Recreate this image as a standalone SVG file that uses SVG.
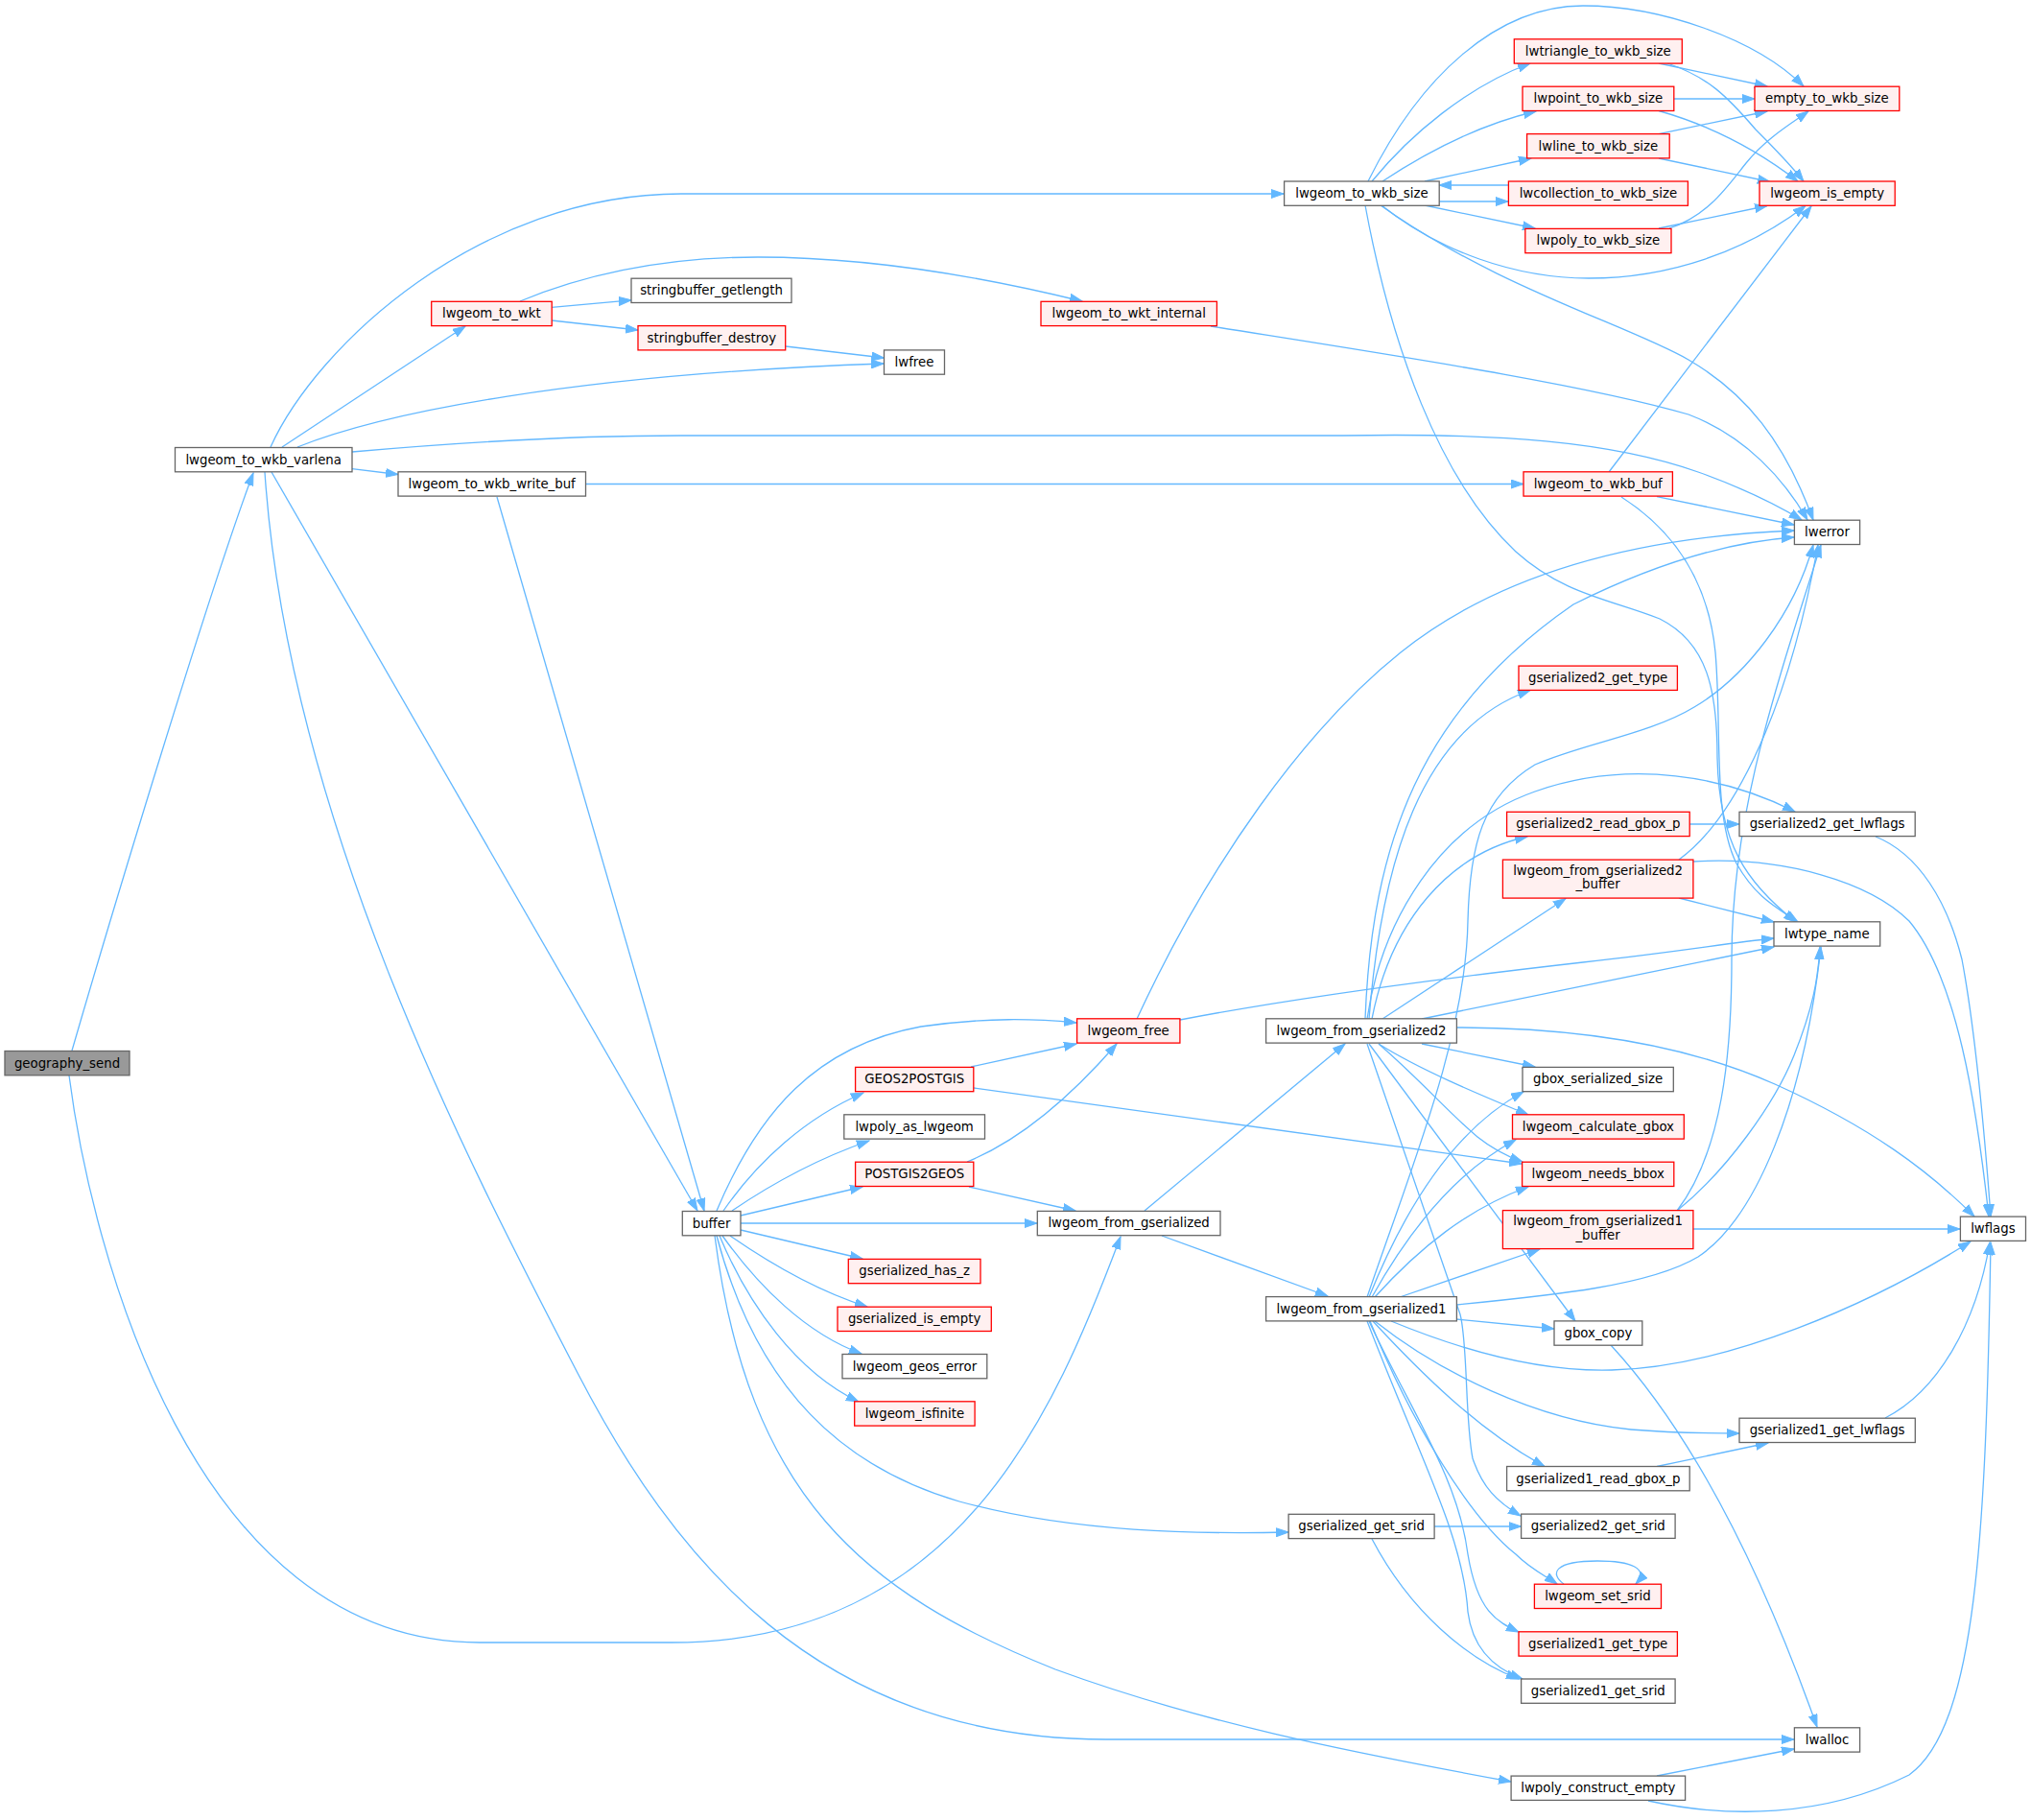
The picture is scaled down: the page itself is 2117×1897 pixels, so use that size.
<svg xmlns="http://www.w3.org/2000/svg" width="2117" height="1897" viewBox="0 0 2117 1897">
<style>
.e{fill:none;stroke:#63b8ff;stroke-width:1.3;marker-end:url(#arr)}
.n rect{fill:#ffffff;stroke:#666666;stroke-width:1.3}
.r rect{fill:#fff0f0;stroke:#ff0000;stroke-width:1.3}
.root rect{fill:#999999;stroke:#666666;stroke-width:1.3}
text{font-family:"DejaVu Sans","Liberation Sans",sans-serif;font-size:13.3px;fill:#000000;text-anchor:middle}
</style>
<defs>
<marker id="arr" markerUnits="userSpaceOnUse" markerWidth="14" markerHeight="10" refX="13" refY="5" orient="auto">
<path d="M0,0.5 L13,5 L0,9.5 z" fill="#63b8ff" stroke="#63b8ff" stroke-width="1"/>
</marker>
</defs>
<rect x="0" y="0" width="2117" height="1897" fill="#ffffff"/>
<g id="edges">
<path class="e" d="M75,1095 C120,940 220,610 264,493"/>
<path class="e" d="M72,1121 C95,1300 200,1712 500,1712 L700,1712 C1000,1712 1100,1470 1168,1289"/>
<path class="e" d="M282,466 C330,360 500,202 710,202 L1338,202"/>
<path class="e" d="M294,466 L485,340"/>
<path class="e" d="M310,466 C400,430 600,390 921,379"/>
<path class="e" d="M367,471 C480,461 600,454 710,454 L1400,454 C1560,451 1680,460 1770,492 C1820,510 1855,528 1878,542"/>
<path class="e" d="M367,488.6 L415,494.5"/>
<path class="e" d="M283,492 L727,1262"/>
<path class="e" d="M276,492 C300,850 484,1204 602,1431 C700,1620 850,1813 1153,1813 L1870,1813"/>
<path class="e" d="M610,504.5 L1588,504.5"/>
<path class="e" d="M518,518 L734,1262"/>
<path class="e" d="M575,320.4 L658,312.8"/>
<path class="e" d="M575,334 L665,344"/>
<path class="e" d="M542,314 C600,290 680,268 790,268 C900,268 1010,285 1128,314"/>
<path class="e" d="M819,361 L921.5,373"/>
<path class="e" d="M1262,340 C1450,370 1650,400 1760,432 C1820,455 1860,500 1884,542"/>
<path class="e" d="M1430,189 C1470,140 1530,90 1595,66"/>
<path class="e" d="M1426,189 C1480,80 1560,6 1650,6 C1730,6 1830,40 1880,90"/>
<path class="e" d="M1441,189 C1500,150 1550,128 1601,116"/>
<path class="e" d="M1485,189 L1596,165"/>
<path class="e" d="M1500,210 L1572,210"/>
<path class="e" d="M1572,193 L1500,193"/>
<path class="e" d="M1485,214 L1600,238"/>
<path class="e" d="M1440,214 C1500,262 1580,290 1656,290 C1740,290 1820,262 1882,214.5"/>
<path class="e" d="M1439,214 C1560,300 1700,340 1760,375 C1820,410 1860,460 1890,542"/>
<path class="e" d="M1423,214 C1450,360 1500,500 1580,575 C1630,620 1680,625 1730,645 C1780,670 1790,720 1790,790 C1792,880 1820,920 1872,961"/>
<path class="e" d="M1729,66 L1842,90"/>
<path class="e" d="M1738,66 C1780,80 1800,100 1830,135 C1850,155 1865,170 1880,189"/>
<path class="e" d="M1745,103 L1829,103"/>
<path class="e" d="M1729,115.5 C1780,130 1830,155 1874,189"/>
<path class="e" d="M1729,139.6 L1842,116"/>
<path class="e" d="M1729,165 L1845,189.5"/>
<path class="e" d="M1740,238 C1780,225 1800,195 1820,170 C1840,145 1865,130 1885,116"/>
<path class="e" d="M1729,238 L1842,214.5"/>
<path class="e" d="M1677,492 L1888,215"/>
<path class="e" d="M1727,517.6 L1870,547"/>
<path class="e" d="M1690,518 C1740,550 1780,600 1788,680 C1795,760 1785,850 1810,900 C1830,935 1850,945 1874,961"/>
<path class="e" d="M1185,1062 C1260,900 1360,760 1460,680 C1560,600 1700,560 1870,553"/>
<path class="e" d="M1230,1063 C1350,1040 1500,1020 1650,1003 C1750,992 1800,983 1849,978"/>
<path class="e" d="M1012,1112 L1122,1088"/>
<path class="e" d="M1015,1134 L1586,1213"/>
<path class="e" d="M1008,1211 C1060,1190 1110,1150 1164,1088"/>
<path class="e" d="M1010,1237 L1121,1262"/>
<path class="e" d="M747,1262 C790,1160 850,1090 960,1070 C1030,1060 1080,1062 1122,1066"/>
<path class="e" d="M754,1262 C790,1210 840,1165 900,1139"/>
<path class="e" d="M763,1262 C810,1230 860,1205 906,1189"/>
<path class="e" d="M772,1267 L899,1237"/>
<path class="e" d="M772,1275 L1081,1275"/>
<path class="e" d="M772,1282 L899,1312"/>
<path class="e" d="M761,1288 C800,1315 850,1345 904,1362"/>
<path class="e" d="M753,1288 C790,1340 840,1390 898,1411"/>
<path class="e" d="M750,1288 C780,1360 830,1430 895,1461"/>
<path class="e" d="M747,1288 C790,1450 880,1530 1000,1565 C1120,1598 1250,1599 1343,1597"/>
<path class="e" d="M745,1288 C780,1560 900,1660 1100,1740 C1250,1795 1400,1825 1575,1857"/>
<path class="e" d="M1193,1262 L1402,1088"/>
<path class="e" d="M1211,1288 L1384,1351"/>
<path class="e" d="M1423,1062 C1430,880 1480,740 1640,630 C1720,590 1800,565 1870,560"/>
<path class="e" d="M1427,1062 C1440,900 1480,760 1595,719.5"/>
<path class="e" d="M1425,1062 C1440,960 1500,860 1600,825 C1700,790 1800,810 1871,846"/>
<path class="e" d="M1430,1062 C1450,960 1510,890 1592,872"/>
<path class="e" d="M1441,1062 L1632,936.5"/>
<path class="e" d="M1482,1062 L1849,987"/>
<path class="e" d="M1482,1088 L1600,1112"/>
<path class="e" d="M1437,1088 C1480,1115 1540,1140 1593,1162"/>
<path class="e" d="M1437,1088 C1480,1125 1510,1160 1540,1185 C1555,1197 1570,1205 1587,1211"/>
<path class="e" d="M1518,1071 C1650,1071 1760,1090 1850,1130 C1950,1175 2010,1220 2058,1268"/>
<path class="e" d="M1427,1088 L1642,1377"/>
<path class="e" d="M1425,1088 L1522,1370 C1530,1400 1527,1480 1535,1520 C1545,1550 1560,1565 1585,1580"/>
<path class="e" d="M1425,1352 C1470,1220 1528,1080 1530,960 C1532,880 1545,830 1600,797 C1650,775 1720,765 1766,737 C1820,705 1870,640 1890,568"/>
<path class="e" d="M1518,1360 C1620,1350 1720,1340 1770,1310 C1830,1270 1880,1150 1898,987"/>
<path class="e" d="M1518,1375 L1620,1385"/>
<path class="e" d="M1459,1352 L1605,1302"/>
<path class="e" d="M1427,1352 C1460,1270 1510,1180 1588,1138"/>
<path class="e" d="M1430,1352 C1470,1280 1520,1220 1580,1188"/>
<path class="e" d="M1433,1352 C1480,1300 1530,1260 1593,1237"/>
<path class="e" d="M1450,1377 C1530,1410 1610,1430 1680,1428 C1800,1425 1950,1360 2054,1294"/>
<path class="e" d="M1433,1377 C1500,1430 1600,1480 1700,1490 C1750,1494 1780,1494 1813,1494"/>
<path class="e" d="M1431,1377 C1480,1430 1540,1490 1610,1528.5"/>
<path class="e" d="M1428,1377 C1470,1480 1530,1580 1580,1620 C1595,1635 1610,1642 1623,1651"/>
<path class="e" d="M1427,1377 C1470,1470 1520,1540 1530,1620 C1540,1680 1560,1690 1583,1701"/>
<path class="e" d="M1425,1377 C1480,1520 1525,1600 1530,1680 C1535,1720 1560,1740 1587,1750"/>
<path class="e" d="M1495,1591 L1585.6,1591"/>
<path class="e" d="M1430,1604 C1470,1680 1530,1730 1583,1750"/>
<path class="e" d="M1750,896 C1800,860 1860,760 1895,568"/>
<path class="e" d="M1750,936 L1849,961"/>
<path class="e" d="M1765,898 C1860,892 1950,920 1990,960 C2040,1020 2060,1150 2073,1268"/>
<path class="e" d="M1761,859 L1813,859"/>
<path class="e" d="M1955,872 C2000,890 2030,940 2045,1000 C2060,1080 2070,1200 2075,1268"/>
<path class="e" d="M1748,1262 C1795,1200 1805,1100 1805,1000 C1805,850 1850,720 1898,568"/>
<path class="e" d="M1748,1262 C1800,1220 1850,1150 1870,1100 C1890,1050 1895,1020 1897,987"/>
<path class="e" d="M1765,1281 L2043,1281"/>
<path class="e" d="M1965,1478 C2020,1450 2060,1380 2074,1295"/>
<path class="e" d="M1727,1528.5 L1843,1504"/>
<path class="e" d="M1679,1402 C1760,1490 1830,1620 1894,1800"/>
<path class="e" d="M1727,1851 L1870,1823"/>
<path class="e" d="M1718,1877 C1800,1895 1900,1895 1990,1850 C2060,1800 2070,1600 2075,1295"/>
<path class="e" d="M1630,1651 C1615,1640 1620,1627 1665,1627 C1700,1627 1720,1635 1705,1651"/>
</g>
<g id="n_geography_send" class="root"><rect x="5" y="1095.5" width="130" height="25.3"/><text x="70" y="1112.5">geography_send</text></g>
<g id="n_varlena" class="n"><rect x="182.5" y="466.5" width="184.5" height="25.3"/><text x="274.7" y="483.5">lwgeom_to_wkb_varlena</text></g>
<g id="n_wkb_size" class="n"><rect x="1338.6" y="189" width="161.6" height="25.3"/><text x="1419.4" y="206">lwgeom_to_wkb_size</text></g>
<g id="n_to_wkt" class="r"><rect x="449.7" y="314.3" width="125.5" height="25.3"/><text x="512.4" y="331.3">lwgeom_to_wkt</text></g>
<g id="n_getlength" class="n"><rect x="658" y="290.2" width="167" height="25.3"/><text x="741.5" y="307.2">stringbuffer_getlength</text></g>
<g id="n_destroy" class="r"><rect x="665" y="339.6" width="153.7" height="25.3"/><text x="741.8" y="356.6">stringbuffer_destroy</text></g>
<g id="n_wkt_internal" class="r"><rect x="1085" y="314.3" width="183.4" height="25.3"/><text x="1176.7" y="331.3">lwgeom_to_wkt_internal</text></g>
<g id="n_lwfree" class="n"><rect x="921.5" y="364.9" width="63" height="25.3"/><text x="953" y="381.9">lwfree</text></g>
<g id="n_lwerror" class="n"><rect x="1870.4" y="542.2" width="68.2" height="25.3"/><text x="1904.5" y="559.2">lwerror</text></g>
<g id="n_write_buf" class="n"><rect x="415" y="491.8" width="195.5" height="25.3"/><text x="512.7" y="508.8">lwgeom_to_wkb_write_buf</text></g>
<g id="n_buffer" class="n"><rect x="711.3" y="1262.5" width="60.7" height="25.3"/><text x="741.6" y="1279.5">buffer</text></g>
<g id="n_lwalloc" class="n"><rect x="1870.4" y="1800.8" width="68.2" height="25.3"/><text x="1904.5" y="1817.8">lwalloc</text></g>
<g id="n_wkb_buf" class="r"><rect x="1588" y="491.8" width="155.4" height="25.3"/><text x="1665.7" y="508.8">lwgeom_to_wkb_buf</text></g>
<g id="n_lwtriangle" class="r"><rect x="1578.3" y="40.8" width="175" height="25.3"/><text x="1665.8" y="57.8">lwtriangle_to_wkb_size</text></g>
<g id="n_lwpoint" class="r"><rect x="1587" y="90.2" width="157.8" height="25.3"/><text x="1665.9" y="107.2">lwpoint_to_wkb_size</text></g>
<g id="n_lwline" class="r"><rect x="1591.6" y="139.6" width="148.6" height="25.3"/><text x="1665.9" y="156.6">lwline_to_wkb_size</text></g>
<g id="n_lwcollection" class="r"><rect x="1572.4" y="189" width="187" height="25.3"/><text x="1665.9" y="206">lwcollection_to_wkb_size</text></g>
<g id="n_lwpoly" class="r"><rect x="1589.8" y="238.4" width="152.2" height="25.3"/><text x="1665.9" y="255.4">lwpoly_to_wkb_size</text></g>
<g id="n_empty" class="r"><rect x="1829" y="90.2" width="150.8" height="25.3"/><text x="1904.4" y="107.2">empty_to_wkb_size</text></g>
<g id="n_is_empty" class="r"><rect x="1834" y="189" width="141.2" height="25.3"/><text x="1904.6" y="206">lwgeom_is_empty</text></g>
<g id="n_lwtype_name" class="n"><rect x="1849" y="960.8" width="110.7" height="25.3"/><text x="1904.3" y="977.8">lwtype_name</text></g>
<g id="n_lwgeom_free" class="r"><rect x="1122.6" y="1061.8" width="107.3" height="25.3"/><text x="1176.2" y="1078.8">lwgeom_free</text></g>
<g id="n_geos2postgis" class="r"><rect x="891.6" y="1112.4" width="123.2" height="25.3"/><text x="953.2" y="1129.4">GEOS2POSTGIS</text></g>
<g id="n_lwpoly_as_lwgeom" class="n"><rect x="879.8" y="1161.8" width="146.7" height="25.3"/><text x="953.1" y="1178.8">lwpoly_as_lwgeom</text></g>
<g id="n_postgis2geos" class="r"><rect x="891.6" y="1211.2" width="123.2" height="25.3"/><text x="953.2" y="1228.2">POSTGIS2GEOS</text></g>
<g id="n_from_gser" class="n"><rect x="1081.3" y="1262.4" width="190.7" height="25.3"/><text x="1176.6" y="1279.4">lwgeom_from_gserialized</text></g>
<g id="n_has_z" class="r"><rect x="884.3" y="1312.4" width="137.7" height="25.3"/><text x="953.1" y="1329.4">gserialized_has_z</text></g>
<g id="n_gser_is_empty" class="r"><rect x="873" y="1362.2" width="160.3" height="25.3"/><text x="953.1" y="1379.2">gserialized_is_empty</text></g>
<g id="n_geos_error" class="n"><rect x="878" y="1411.5" width="150.8" height="25.3"/><text x="953.4" y="1428.5">lwgeom_geos_error</text></g>
<g id="n_isfinite" class="r"><rect x="890.7" y="1460.8" width="125.4" height="25.3"/><text x="953.4" y="1477.8">lwgeom_isfinite</text></g>
<g id="n_gser_get_srid" class="n"><rect x="1343.1" y="1578.3" width="152" height="25.3"/><text x="1419.1" y="1595.3">gserialized_get_srid</text></g>
<g id="n_from_gser2" class="n"><rect x="1319.6" y="1061.8" width="198.8" height="25.3"/><text x="1419" y="1078.8">lwgeom_from_gserialized2</text></g>
<g id="n_from_gser1" class="n"><rect x="1319.6" y="1351.6" width="198.8" height="25.3"/><text x="1419" y="1368.6">lwgeom_from_gserialized1</text></g>
<g id="n_g2_get_type" class="r"><rect x="1583" y="694.1" width="165.4" height="25.3"/><text x="1665.7" y="711.1">gserialized2_get_type</text></g>
<g id="n_g2_read_gbox" class="r"><rect x="1570.6" y="846.3" width="190.6" height="25.3"/><text x="1665.9" y="863.3">gserialized2_read_gbox_p</text></g>
<g id="n_g2_get_lwflags" class="n"><rect x="1813" y="846.3" width="183.2" height="25.3"/><text x="1904.6" y="863.3">gserialized2_get_lwflags</text></g>
<g id="n_from_g2_buffer" class="r"><rect x="1566.4" y="896.1" width="198.5" height="40"/><text x="1665.6" y="911.8">lwgeom_from_gserialized2</text><text x="1665.6" y="926.2">_buffer</text></g>
<g id="n_gbox_ser_size" class="n"><rect x="1587" y="1112.4" width="157.3" height="25.3"/><text x="1665.6" y="1129.4">gbox_serialized_size</text></g>
<g id="n_calc_gbox" class="r"><rect x="1576.5" y="1161.8" width="178.8" height="25.3"/><text x="1665.9" y="1178.8">lwgeom_calculate_gbox</text></g>
<g id="n_needs_bbox" class="r"><rect x="1586.6" y="1211.2" width="158.2" height="25.3"/><text x="1665.7" y="1228.2">lwgeom_needs_bbox</text></g>
<g id="n_from_g1_buffer" class="r"><rect x="1566.4" y="1261.6" width="198.5" height="40"/><text x="1665.6" y="1277.3">lwgeom_from_gserialized1</text><text x="1665.6" y="1291.7">_buffer</text></g>
<g id="n_lwflags" class="n"><rect x="2043.4" y="1268.1" width="68.1" height="25.3"/><text x="2077.4" y="1285.1">lwflags</text></g>
<g id="n_gbox_copy" class="n"><rect x="1620" y="1376.9" width="91.8" height="25.3"/><text x="1665.9" y="1393.9">gbox_copy</text></g>
<g id="n_g1_get_lwflags" class="n"><rect x="1813" y="1478.2" width="183.3" height="25.3"/><text x="1904.6" y="1495.2">gserialized1_get_lwflags</text></g>
<g id="n_g1_read_gbox" class="n"><rect x="1570.6" y="1528.5" width="190.6" height="25.3"/><text x="1665.9" y="1545.5">gserialized1_read_gbox_p</text></g>
<g id="n_g2_get_srid" class="n"><rect x="1585.6" y="1578.1" width="160.5" height="25.3"/><text x="1665.8" y="1595.1">gserialized2_get_srid</text></g>
<g id="n_set_srid" class="r"><rect x="1599.4" y="1651.2" width="132.1" height="25.3"/><text x="1665.4" y="1668.2">lwgeom_set_srid</text></g>
<g id="n_g1_get_type" class="r"><rect x="1583" y="1700.8" width="165.4" height="25.3"/><text x="1665.7" y="1717.8">gserialized1_get_type</text></g>
<g id="n_g1_get_srid" class="n"><rect x="1585.6" y="1750" width="160.5" height="25.3"/><text x="1665.8" y="1767">gserialized1_get_srid</text></g>
<g id="n_poly_construct" class="n"><rect x="1575.1" y="1851.1" width="181.5" height="25.3"/><text x="1665.8" y="1868.1">lwpoly_construct_empty</text></g>
</svg>
